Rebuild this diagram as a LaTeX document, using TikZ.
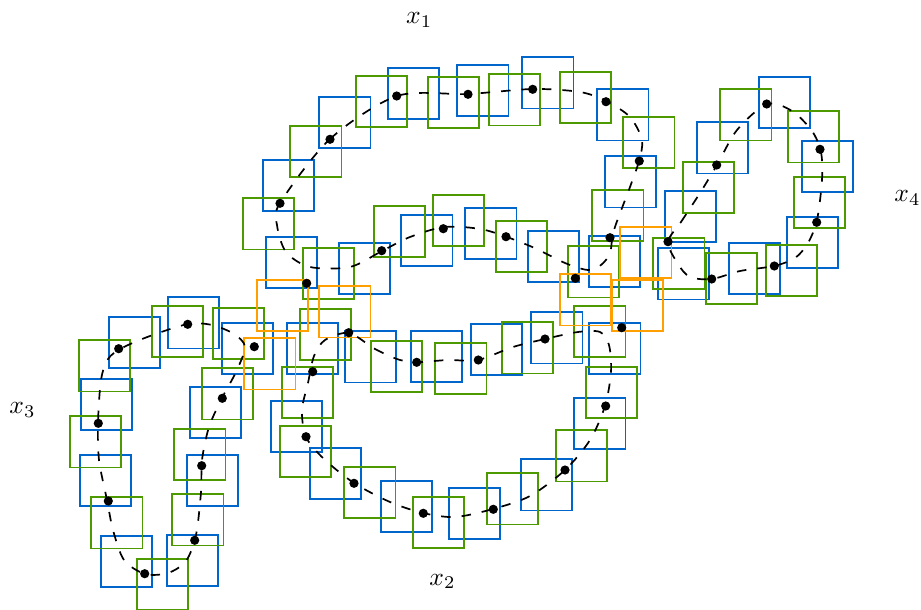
\documentclass[tikz,border=0pt]{standalone}
\definecolor{sqblue}{RGB}{0,102,204}
\definecolor{sqgreen}{RGB}{77,153,0}
\definecolor{sqorange}{RGB}{255,160,0}
\begin{document}
\begin{tikzpicture}[x=1pt,y=-1pt,
  sq/.style={line width=1.7pt},
  bsq/.style={sq,draw=sqblue},
  gsq/.style={sq,draw=sqgreen},
  osq/.style={sq,draw=sqorange},
  traj/.style={line width=1.7pt,dash pattern=on 9.5pt off 11pt},
  lab/.style={scale=2.56,anchor=base}]
\useasboundingbox (0,0) rectangle (921,610);
% blue squares
\foreach \x/\y in {387.7/67.7,457.3/65,522.3/57.3,597.3/89.3,604.7/156.3,588.7/235.7,
  319.3/97,262.7/159.7,266/236.7,339/242.7,401.3/214.7,465.3/208,527.7/230.7,
  697/122.3,759/77,801.7/141,786.7/217,728.7/242.7,664.7/190.7,658/248.3,
  167.7/297.3,109/316.7,222/322.7,80.7/378.7,190/387,80/454.7,187/455,100.7/535.7,166.7/535,
  287/323,270.7/400.7,309.7/448,381/480.7,448.7/487.7,521/459.3,574.3/397.7,589.3/323,
  531.3/312.3,470.7/323.7,411/330.7,344.7/331.3}
  \draw[bsq] (\x,\y) rectangle ++(51.3,51.3);
% green squares
\foreach \x/\y in {355.7/76,427.7/76.7,489/74.3,560/72,623.3/117,592.3/189.7,568/246.3,
  290.3/126,242.7/198.3,302.7/247.7,374/206,433/195,495.7/221,
  720.3/89.3,787.7/111.3,794/176.7,765.7/245,705.7/252.7,682.7/161.7,653.3/238,
  152/305.7,212.7/307.7,79/340.3,202/368.3,70/416.3,174.3/429,91.3/497.3,172.3/494.3,136.7/558.7,
  299.7/308.7,281.7/366.7,279.7/426,344.3/467,413/496.7,486.7/473.3,555.7/430.3,586/366.7,
  574.3/305.7,501.7/322.3,435.3/343,371/341}
  \draw[gsq] (\x,\y) rectangle ++(51.3,51.3);
% orange squares
\foreach \x/\y in {256.7/280,319.3/286.3,244.3/338.3,560/274.3,612/280,620.3/226.7}
  \draw[osq] (\x,\y) rectangle ++(51.3,51.3);
% trajectories
\draw[traj] plot[smooth cycle] coordinates {(280,203) (330,139) (397,96) (468,94) (533,89)
  (580,92) (606,101) (630,117) (642,140) (639,161) (630,187) (614,230) (610,253) (601,265)
  (588,270) (565,263) (530,246) (485,230) (445,227) (410,237) (382,251) (350,267) (310,267)
  (286,252) (277,225)};
\draw[traj] plot[smooth cycle] coordinates {(668,242) (681,222) (700,193) (717,165) (737,130)
  (767,104) (792,111) (812,131) (821,152) (822,180) (817,220) (808,243) (795,258) (774,266)
  (740,271) (712,279) (690,277) (678,264)};
\draw[traj] plot[smooth cycle] coordinates {(145,574) (124,560) (113,530) (107,500) (99,460)
  (98,423) (101,380) (108,359) (122,348) (150,336) (188,324) (212,325) (234,334) (245,347)
  (236,372) (222,398) (209,427) (202,460) (201,492) (196,535) (186,561) (168,573)};
\draw[traj] plot[smooth cycle] coordinates {(349,333) (375,349) (400,360) (420,362) (448,360)
  (478,360) (513,347) (545,339) (578,332) (600,332) (609,345) (611,372) (605,406) (590,440)
  (565,470) (530,496) (493,509) (455,517) (423,513) (390,502) (354,483) (324,459) (306,437)
  (302,410) (308,383) (314,356) (325,340)};
% dots
\foreach \x/\y in {280/203.3,330/139.3,396.7/96,468/94.3,532.7/89.3,606/101.7,639.3/161,
  610/237.7,575.3/278.3,506/236.7,443.3/228.7,381.7/250.7,306.7/283.3,
  668/241.7,716.7/165,766.7/104,820/149.3,816.7/222.3,774.3/266,711.7/279,
  144.7/573.7,108.3/501,98.3/423.3,118.7/348.7,187.7/324.3,254.3/346.7,222.3/398.3,201.7/465.7,194.7/540.3,
  348.7/332.7,416.7/362.3,478.3/360,545/339,621.7/327.7,605.7/406,565/470,493.3/509.3,
  423.3/513.3,354/483.3,306/436.7,312.7/371.7}
  \fill (\x,\y) circle[radius=4.6];
% labels
\node[lab] (l1) at (419.2,23.3) {$x_1$};
\node[lab] (l2) at (442.5,585) {$x_2$};
\node[lab] (l3) at (22.5,413.3) {$x_3$};
\node[lab] (l4) at (907.5,201.7) {$x_4$};
\end{tikzpicture}
\end{document}
